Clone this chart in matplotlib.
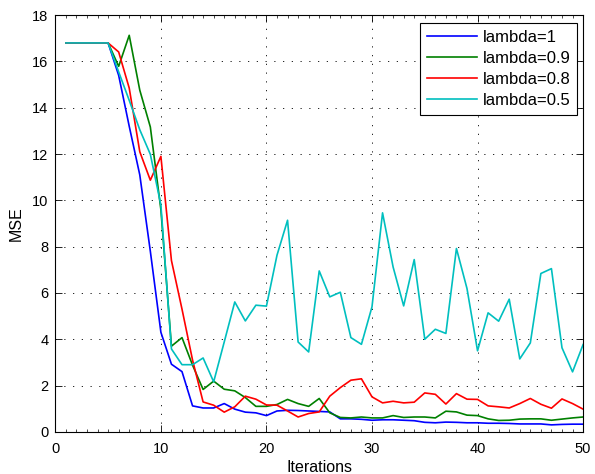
# All imports
import matplotlib
matplotlib.use("Agg")
import matplotlib.pyplot as plt
from matplotlib.ticker import MultipleLocator

plt.rcParams['font.family'] = ['Liberation Sans', 'DejaVu Sans']

# Iterations
iterations = list(range(1, 51))

# MSE for each lambda
mse_lambda_1 = [16.8, 16.8, 16.8, 16.8, 16.8, 15.4, 13.2, 11.1, 7.8, 4.3,
                2.92, 2.6, 1.12, 1.03, 1.03, 1.22, 0.98, 0.85, 0.82, 0.70,
                0.9, 0.93, 0.92, 0.9, 0.88, 0.86, 0.56, 0.56, 0.54, 0.5,
                0.52, 0.52, 0.5, 0.48, 0.41, 0.39, 0.42, 0.41, 0.39, 0.39,
                0.37, 0.37, 0.36, 0.34, 0.34, 0.34, 0.3, 0.32, 0.33, 0.33]
mse_lambda_09 = [16.8, 16.8, 16.8, 16.8, 16.8, 15.79, 17.13, 14.76, 13.17, 9.6,
                 3.7, 4.07, 2.88, 1.83, 2.19, 1.84, 1.77, 1.48, 1.1, 1.1,
                 1.18, 1.4, 1.22, 1.1, 1.44, 0.82, 0.62, 0.6, 0.64, 0.6,
                 0.6, 0.7, 0.62, 0.64, 0.64, 0.6, 0.89, 0.86, 0.72, 0.7,
                 0.56, 0.49, 0.5, 0.55, 0.56, 0.56, 0.5, 0.55, 0.6, 0.64]
mse_lambda_08 = [16.8, 16.8, 16.8, 16.8, 16.8, 16.41, 14.85, 12.1, 10.87, 11.9,
                 7.4, 5.3, 3.1, 1.29, 1.15, 0.85, 1.08, 1.54, 1.41, 1.16,
                 1.15, 0.9, 0.64, 0.79, 0.86, 1.54, 1.91, 2.23, 2.29, 1.51,
                 1.25, 1.32, 1.25, 1.28, 1.68, 1.62, 1.2, 1.65, 1.41, 1.4,
                 1.12, 1.08, 1.03, 1.22, 1.44, 1.19, 1.02, 1.42, 1.22, 0.98]
mse_lambda_05 = [16.8, 16.8, 16.8, 16.8, 16.8, 15.55, 14.32, 13.05, 11.99, 9.8,
                 3.58, 2.9, 2.9, 3.19, 2.16, 3.88, 5.61, 4.79, 5.47, 5.43,
                 7.63, 9.14, 3.88, 3.45, 6.95, 5.83, 6.03, 4.07, 3.78, 5.4,
                 9.46, 7.12, 5.44, 7.44, 4.0, 4.43, 4.25, 7.92, 6.19, 3.5,
                 5.14, 4.78, 5.73, 3.15, 3.84, 6.84, 7.05, 3.63, 2.59, 3.77]

labels = ["lambda=1", "lambda=0.9", "lambda=0.8", "lambda=0.5"]
colors = ["#0000ff", "#008000", "#ff0000", "#00bfbf"]

# Figure and axes
fig = plt.figure(figsize=(5.95, 4.74), dpi=100)
ax = fig.add_axes([0.093, 0.089, 0.887, 0.879])

for series, label, color in zip([mse_lambda_1, mse_lambda_09, mse_lambda_08, mse_lambda_05], labels, colors):
    ax.plot(iterations, series, color=color, linewidth=1.2, label=label)

# Axis limits and ticks
ax.set_xlim(0, 50)
ax.set_ylim(0, 18)
ax.set_xticks(range(0, 51, 10))
ax.set_yticks(range(0, 19, 2))
ax.xaxis.set_minor_locator(MultipleLocator(1))
ax.tick_params(which='both', direction='in', top=True, right=True, labelsize=10.5)
ax.tick_params(which='major', length=5, width=0.6)
ax.tick_params(which='minor', length=2.5, width=0.5)
ax.tick_params(axis='x', which='major', pad=7)
ax.tick_params(axis='y', which='major', pad=5)
ax.grid(True, which='major', linestyle=(0, (1.5, 9)), color='black', linewidth=0.6)
for spine in ax.spines.values():
    spine.set_linewidth(0.8)

ax.set_xlabel("Iterations", fontsize=11.5, labelpad=3)
ax.set_ylabel("MSE", fontsize=11.5, labelpad=6)

# Legend
leg = ax.legend(loc='upper right', bbox_to_anchor=(0.989, 0.981), borderaxespad=0, fontsize=12,
                fancybox=False, framealpha=1, edgecolor='black',
                handlelength=3.0, labelspacing=0.35, borderpad=0.42, handletextpad=0.35)
leg.get_frame().set_linewidth(0.8)

plt.savefig("out.png", dpi=100)
